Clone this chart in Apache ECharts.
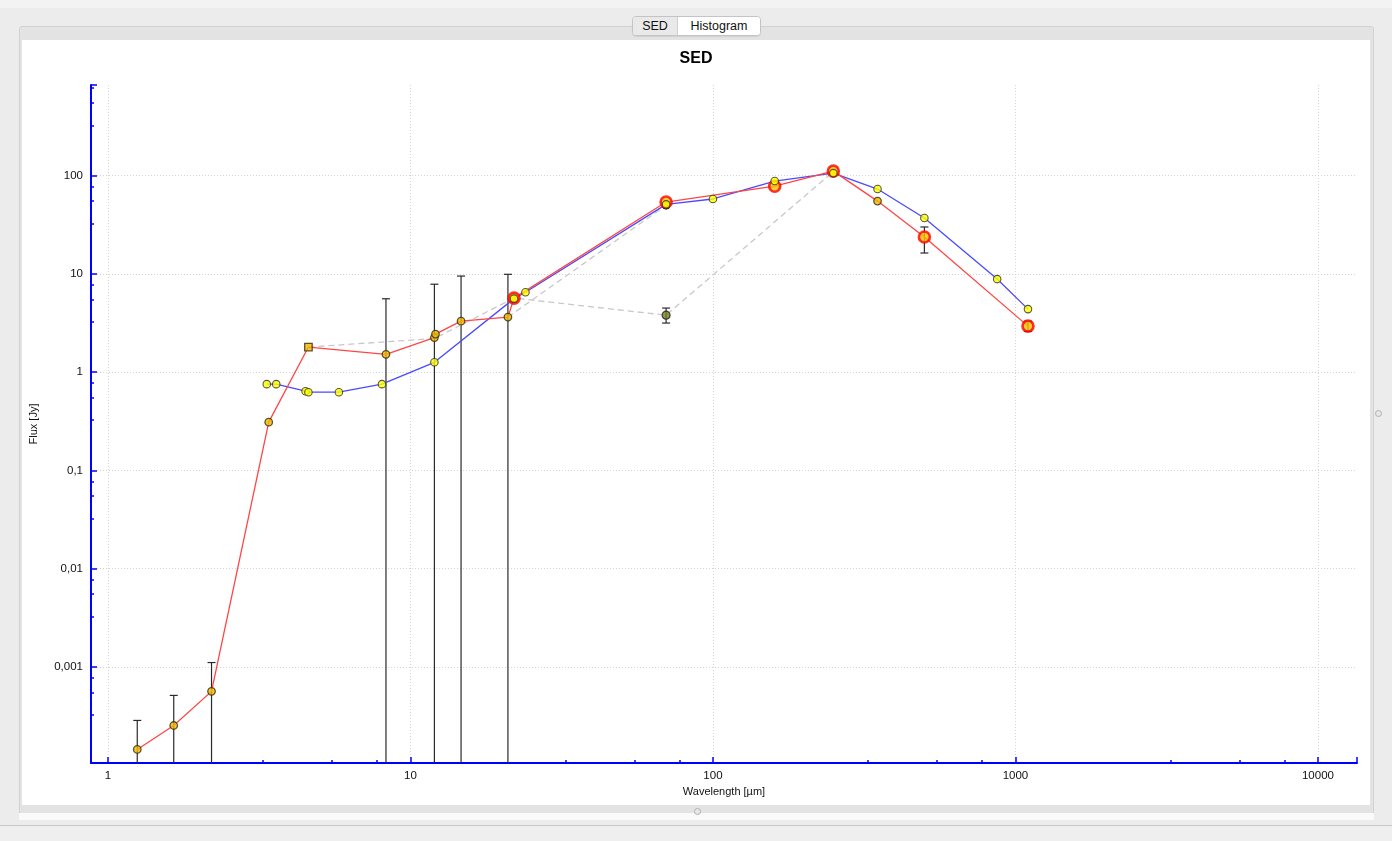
<!DOCTYPE html>
<html>
<head>
<meta charset="utf-8">
<script src="https://cdn.jsdelivr.net/npm/echarts@6/dist/echarts.min.js"></script>
<style>
  html, body { margin:0; padding:0; width:1392px; height:841px; overflow:hidden; background:#ececec; font-family:"Liberation Sans", Arial, sans-serif; }
  #topbar { position:absolute; left:0; top:0; width:1392px; height:8px; background:#f3f3f3; }
  #panel { position:absolute; left:19px; top:26px; width:1353px; height:787px; background:#e3e3e3; border:1px solid #d2d2d2; border-radius:3px; }
  #white { position:absolute; left:22px; top:40px; width:1348px; height:765px; background:#ffffff; }
  #strip { position:absolute; left:19px; top:813px; width:1355px; height:7px; background:#fafafa; }
  #bottomline { position:absolute; left:0; top:825px; width:1392px; height:1px; background:#c8c8c8; }
  #bottom { position:absolute; left:0; top:826px; width:1392px; height:15px; background:#efefef; }
  .dot { position:absolute; width:5px; height:5px; border-radius:50%; border:1px solid #b0b0b0; background:#e8e8e8; }
  #tabs { position:absolute; left:632px; top:16px; height:18px; display:flex; border:1px solid #c4c4c4; border-radius:4px; overflow:hidden; font-size:12.5px; z-index:5; box-shadow:0 1px 1px rgba(0,0,0,0.08); }
  #tabs div { line-height:18px; padding:0 8px; color:#111; }
  #tab1 { background:#e9e9e9; width:28px; text-align:center; border-right:1px solid #d0d0d0; }
  #tab2 { background:#ffffff; width:66px; text-align:center; }
  #chart { position:absolute; left:0; top:0; width:1392px; height:841px; z-index:3; }
</style>
</head>
<body>
<div id="topbar"></div>
<div id="panel"></div>
<div id="white"></div>
<div id="strip"></div>
<div id="bottomline"></div>
<div id="bottom"></div>
<div class="dot" style="left:694px; top:808px;"></div>
<div class="dot" style="left:1375px; top:410px;"></div>
<div id="tabs"><div id="tab1">SED</div><div id="tab2">Histogram</div></div>
<div id="chart"></div>
<script>
// ---- data (wavelength in µm, flux in Jy) ----
const xTickLabels = ['1', '10', '100', '1000', '10000'];
const yTickLabels = ['0,001', '0,01', '0,1', '1', '10', '100'];

// red model curve
const redLine = [
  [1.25, 1.45e-4], [1.65, 2.54e-4], [2.2, 5.65e-4], [3.4, 0.31], [4.6, 1.8],
  [8.3, 1.52], [12.0, 2.25], [12.1, 2.44], [14.7, 3.3], [21.0, 3.63], [22.0, 5.67],
  [70, 53.8], [160, 78], [250, 111], [350, 55], [500, 23.7], [1100, 2.94]
];
// blue curve
const blueLine = [
  [3.35, 0.755], [3.6, 0.755], [4.5, 0.64], [4.6, 0.625], [5.8, 0.625], [8.05, 0.755],
  [12.0, 1.26], [22.0, 5.6], [24.0, 6.5], [70, 51], [100, 57.8], [160, 88],
  [250, 106], [350, 73], [500, 37], [870, 8.85], [1100, 4.38]
];
// grey dashed connections
const greyLineA = [[4.6, 1.8], [12.0, 2.2], [22.0, 5.67], [70, 3.8], [250, 110]];
const greyLineB = [[21.0, 3.63], [70, 50]];

// small photometry markers (orange)
const smallPoints = [
  [1.25, 1.45e-4], [1.65, 2.54e-4], [2.2, 5.65e-4], [3.4, 0.31],
  [8.3, 1.52], [12.0, 2.25], [12.1, 2.44], [14.7, 3.3], [21.0, 3.63], [350, 55]
];
const squarePoints = [[4.6, 1.8]];
// large red-ringed markers
const ringPoints = [[22.0, 5.67], [70, 53.8], [160, 78], [250, 111], [500, 23.7], [1100, 2.94]];
// dark markers
const darkPoints = [[70, 50]];
const olivePoints = [[70, 3.8]];

// error bars: [wavelength, low (0 = down to axis), high]
const errorBars = [
  [1.25, 0, 2.86e-4], [1.65, 0, 5.14e-4], [2.2, 0, 1.11e-3],
  [8.3, 0, 5.58], [12.0, 0, 7.85], [14.7, 0, 9.5], [21.0, 0, 9.9],
  [70, 3.16, 4.49], [500, 16.3, 30], [1100, 2.6, 3.3]
];

const FONT = '"Liberation Sans", Arial, sans-serif';
const chart = echarts.init(document.getElementById('chart'), null, { renderer: 'canvas' });

function fmtY(v) {
  const s = (v >= 1) ? String(Math.round(v)) : String(v);
  return s.replace('.', ',');
}

const option = {
  backgroundColor: 'transparent',
  animation: false,
  title: {
    text: 'SED', left: 'center', top: 46,
    textStyle: { fontFamily: FONT, fontSize: 16, fontWeight: 'bold', color: '#000' }
  },
  grid: { left: 91, top: 85, right: 35, bottom: 78, containLabel: false },
  xAxis: {
    type: 'log', logBase: 10, min: 0.879, max: 13460,
    name: 'Wavelength [µm]', nameLocation: 'middle', nameGap: 23,
    nameTextStyle: { fontFamily: FONT, fontSize: 11, color: '#111' },
    axisLine: { show: true, lineStyle: { color: '#0000ff', width: 2 } },
    axisTick: { show: true, inside: true, length: 6, lineStyle: { color: '#0000ff', width: 1.5 } },
    minorTick: { show: true, splitNumber: 4, length: 3, lineStyle: { color: '#0000ff', width: 1.5 } },
    axisLabel: {
      fontFamily: FONT, fontSize: 11.5, color: '#111', margin: 7,
      showMinLabel: false, showMaxLabel: false,
      formatter: function (v) {
        const s = String(Math.round(v));
        return xTickLabels.indexOf(s) >= 0 ? s : '';
      }
    },
    splitLine: { show: true, showMinLine: false, showMaxLine: false, lineStyle: { color: '#d4d4d4', type: [1, 2], width: 1 } }
  },
  yAxis: {
    type: 'log', logBase: 10, min: 1.055e-4, max: 835,
    name: 'Flux [Jy]', nameLocation: 'middle', nameGap: 52,
    nameTextStyle: { fontFamily: FONT, fontSize: 11, color: '#111' },
    axisLine: { show: true, lineStyle: { color: '#0000ff', width: 2 } },
    axisTick: { show: true, inside: true, length: 6, lineStyle: { color: '#0000ff', width: 1.5 } },
    minorTick: { show: true, splitNumber: 4, length: 3, lineStyle: { color: '#0000ff', width: 1.5 } },
    axisLabel: {
      fontFamily: FONT, fontSize: 11.5, color: '#111', margin: 8,
      showMinLabel: false, showMaxLabel: false,
      formatter: function (v) {
        const s = fmtY(v);
        return yTickLabels.indexOf(s) >= 0 ? s : '';
      }
    },
    splitLine: { show: true, showMinLine: false, showMaxLine: false, lineStyle: { color: '#d4d4d4', type: [1, 2], width: 1 } }
  },
  series: [
    {
      type: 'custom', name: 'errors', z: 1,
      data: errorBars,
      encode: { x: 0, y: 2 },
      renderItem: function (params, api) {
        const x = api.value(0), lo = api.value(1), hi = api.value(2);
        const cs = params.coordSys;
        const top = api.coord([x, hi]);
        const bottomY = cs.y + cs.height;
        let bot = lo > 0 ? api.coord([x, lo]) : [top[0], bottomY];
        bot[1] = Math.min(bot[1], bottomY);
        const st = { stroke: '#2a2a2a', lineWidth: 1.2 };
        const children = [
          { type: 'line', shape: { x1: top[0], y1: top[1], x2: top[0], y2: bot[1] }, style: st },
          { type: 'line', shape: { x1: top[0] - 4, y1: top[1], x2: top[0] + 4, y2: top[1] }, style: st }
        ];
        if (lo > 0) {
          children.push({ type: 'line', shape: { x1: top[0] - 4, y1: bot[1], x2: top[0] + 4, y2: bot[1] }, style: st });
        }
        return { type: 'group', children: children };
      }
    },
    {
      type: 'line', name: 'greyA', data: greyLineA, symbol: 'none', z: 2,
      lineStyle: { color: '#c8c8c8', width: 1.3, type: [6, 4] }
    },
    {
      type: 'line', name: 'greyB', data: greyLineB, symbol: 'none', z: 2,
      lineStyle: { color: '#c8c8c8', width: 1.3, type: [6, 4] }
    },
    {
      type: 'line', name: 'blue', data: blueLine, symbol: 'none', z: 3,
      lineStyle: { color: '#4a4aff', width: 1.3 }
    },
    {
      type: 'line', name: 'red', data: redLine, symbol: 'none', z: 4,
      lineStyle: { color: '#ff4545', width: 1.3 }
    },
    {
      type: 'scatter', name: 'dark', data: darkPoints, symbol: 'circle', symbolSize: 8, z: 5,
      itemStyle: { color: '#202020', borderColor: '#000', borderWidth: 1 }
    },
    {
      type: 'scatter', name: 'olive', data: olivePoints, symbol: 'circle', symbolSize: 8, z: 5,
      itemStyle: { color: '#77801c', borderColor: '#202020', borderWidth: 1.2 }
    },
    {
      type: 'scatter', name: 'small', data: smallPoints, symbol: 'circle', symbolSize: 7.5, z: 6,
      itemStyle: { color: '#f2b800', borderColor: '#2e2e10', borderWidth: 1.3 }
    },
    {
      type: 'scatter', name: 'square', data: squarePoints, symbol: 'rect', symbolSize: 7.5, z: 6,
      itemStyle: { color: '#f2b800', borderColor: '#2e2e10', borderWidth: 1.3 }
    },
    {
      type: 'scatter', name: 'rings', data: ringPoints, symbol: 'circle', symbolSize: 11, z: 7,
      itemStyle: { color: '#f2c000', borderColor: '#ff0000', borderWidth: 2.6 }
    },
    {
      type: 'scatter', name: 'bluePts', data: blueLine, symbol: 'circle', symbolSize: 7.5, z: 8,
      itemStyle: { color: '#ffff00', borderColor: '#303020', borderWidth: 1.1 }
    }
  ]
};
chart.setOption(option);
</script>
</body>
</html>
